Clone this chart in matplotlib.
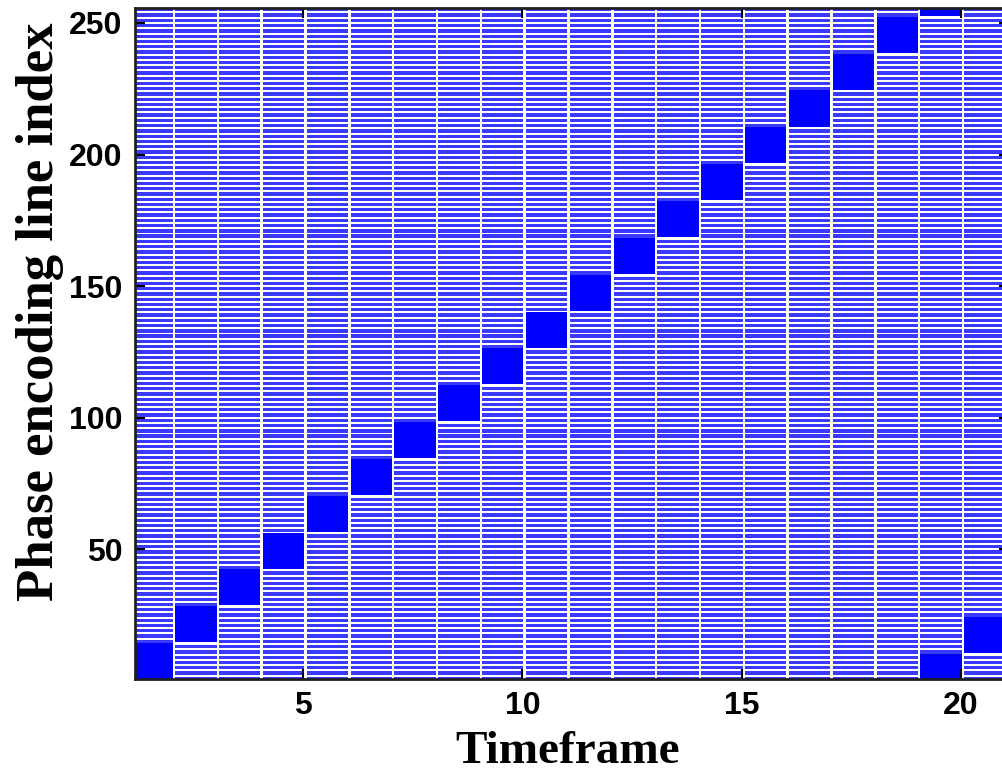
import matplotlib
matplotlib.use("Agg")
import matplotlib.pyplot as plt
import numpy as np

# ---- data ----
n_lines = 256
frames = list(range(1, 21))
block_start = [1, 15, 29, 43, 57, 71, 85, 99, 113, 127, 141, 155, 169, 183,
               197, 211, 225, 239, 253, 11]
block_len = 14
sampling_step = 2
x_ticks = [5, 10, 15, 20]
y_ticks = [50, 100, 150, 200, 250]

BLUE = "#0000ff"
STRIPE = "#3a3aff"

fig = plt.figure(figsize=(10.02, 7.8), dpi=100)
ax = fig.add_axes([135 / 1002, 101 / 780, 874 / 1002, 671 / 780])

col_offset = 0.05
gap = 0.03
for f, s in zip(frames, block_start):
    left = f + col_offset + gap
    width = 1 - 2 * gap
    blk = sorted(((s - 1 + j) % n_lines) + 1 for j in range(block_len))
    blk_set = set(blk)
    lines = [l for l in range(1, n_lines + 1, sampling_step) if l not in blk_set]
    ax.barh(lines, width, left=left, height=1.25, color=STRIPE,
            linewidth=0, align="center")
    runs = []
    start = blk[0]
    prev = blk[0]
    for l in blk[1:]:
        if l != prev + 1:
            runs.append((start, prev))
            start = l
        prev = l
    runs.append((start, prev))
    for a, b in runs:
        ax.barh((a + b) / 2, width, left=left, height=(b - a + 1) - 0.3,
                color=BLUE, linewidth=0, align="center")

ax.set_xlim(1.16, 21.1)
ax.set_ylim(0.7, 255.7)
ax.set_xticks(x_ticks)
ax.set_yticks(y_ticks)
ax.tick_params(direction="in", length=7, width=1.5, top=True, right=True,
               labelsize=23, pad=9)
for lab in ax.get_xticklabels() + ax.get_yticklabels():
    lab.set_fontfamily("Liberation Sans")
    lab.set_fontweight("bold")
for sp in ax.spines.values():
    sp.set_linewidth(2)
    sp.set_color("#202020")

ax.set_xlabel("Timeframe", fontfamily="Liberation Serif", fontweight="bold",
              fontsize=34)
ax.set_ylabel("Phase encoding line index", fontfamily="Liberation Serif",
              fontweight="bold", fontsize=38)
ax.xaxis.set_label_coords(0.495, -0.109)
ax.xaxis.label.set_va("center")
ax.yaxis.set_label_coords(-0.109, 0.547)
ax.yaxis.label.set_va("center")

fig.savefig("out.png", dpi=100)
